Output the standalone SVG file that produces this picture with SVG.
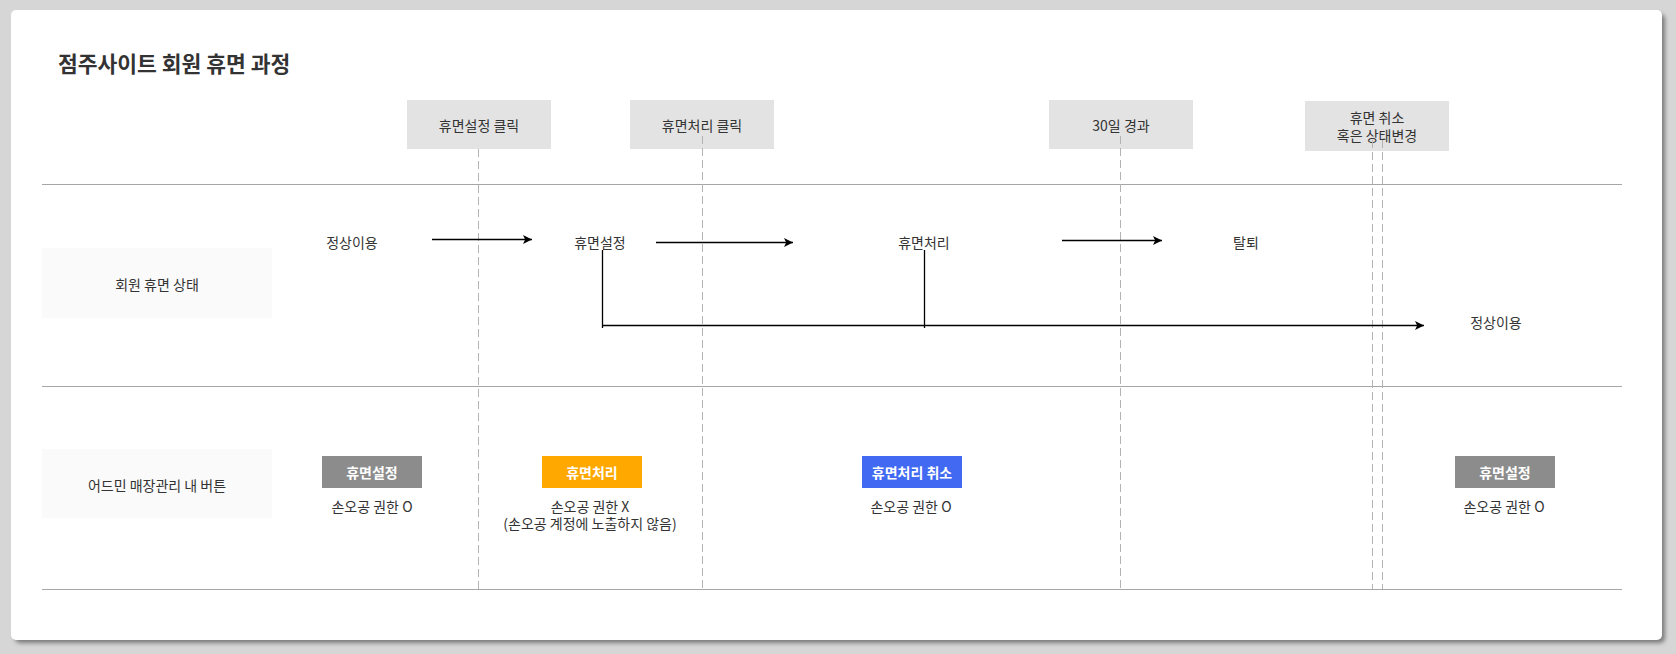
<svg xmlns="http://www.w3.org/2000/svg" width="1676" height="654" viewBox="0 0 1676 654">
  <style>
    text { font-family: "Noto Sans CJK KR", "Noto Sans", sans-serif; fill: #333333; }
    .t13 { font-size: 14px; }
    .t12 { font-size: 14px; }
    .btn { font-size: 14px; font-weight: bold; fill: #ffffff; }
    .hdr { fill: #e3e3e3; }
    .lbl { fill: #fafafa; }
    .hline { stroke: #a6a6a6; stroke-width: 1; fill: none; }
    .dash { stroke: #b3b3b3; stroke-width: 1; stroke-dasharray: 8 4; fill: none; }
    .arr { stroke: #000000; stroke-width: 1.3; fill: none; }
  </style>
  <defs>
    <marker id="ah" markerUnits="userSpaceOnUse" markerWidth="12" markerHeight="12" refX="9" refY="5" orient="auto">
      <path d="M0,0.5 L9,5 L0,9.5 L2.2,5 Z" fill="#000000"/>
    </marker>
    <filter id="sh" x="-5%" y="-5%" width="110%" height="110%">
      <feGaussianBlur stdDeviation="2"/>
    </filter>
  </defs>

  <rect x="0" y="0" width="1676" height="654" fill="#d6d6d6"/>
  <rect x="15" y="14" width="1650" height="629" rx="5" fill="#7a7a7a" filter="url(#sh)"/>
  <rect x="11" y="10" width="1651" height="630" rx="5" fill="#ffffff"/>

  <text x="58" y="72" style="font-size:21.5px;font-weight:bold;fill:#333333">점주사이트 회원 휴면 과정</text>

  <!-- lanes -->
  <g id="lanes">
    <line class="hline" x1="42" y1="184.5" x2="1622" y2="184.5"/>
    <line class="hline" x1="42" y1="386.5" x2="1622" y2="386.5"/>
    <line class="hline" x1="42" y1="589.5" x2="1622" y2="589.5"/>
  </g>

  <!-- header nodes -->
  <g id="h1">
    <rect class="hdr" x="407" y="100" width="144" height="49"/>
    <text class="t13" x="479" y="125" text-anchor="middle" dominant-baseline="central">휴면설정 클릭</text>
  </g>
  <g id="h2">
    <rect class="hdr" x="630" y="100" width="144" height="49"/>
    <text class="t13" x="702" y="125" text-anchor="middle" dominant-baseline="central">휴면처리 클릭</text>
  </g>
  <g id="h3">
    <rect class="hdr" x="1049" y="100" width="144" height="49"/>
    <text class="t13" x="1121" y="125" text-anchor="middle" dominant-baseline="central">30일 경과</text>
  </g>
  <g id="h4">
    <rect class="hdr" x="1305" y="101" width="144" height="50"/>
    <text class="t13" x="1377" y="117" text-anchor="middle" dominant-baseline="central">휴면 취소</text>
    <text class="t13" x="1377" y="135" text-anchor="middle" dominant-baseline="central">혹은 상태변경</text>
  </g>

  <!-- row labels -->
  <g id="lbl1">
    <rect class="lbl" x="42" y="248" width="230" height="70"/>
    <text class="t13" x="157" y="284" text-anchor="middle" dominant-baseline="central">회원 휴면 상태</text>
  </g>
  <g id="lbl2">
    <rect class="lbl" x="42" y="449" width="230" height="69"/>
    <text class="t13" x="157" y="485" text-anchor="middle" dominant-baseline="central">어드민 매장관리 내 버튼</text>
  </g>

  <!-- state nodes -->
  <g id="s1"><text class="t12" x="352" y="242" text-anchor="middle" dominant-baseline="central">정상이용</text></g>
  <g id="s2"><text class="t12" x="600" y="242" text-anchor="middle" dominant-baseline="central">휴면설정</text></g>
  <g id="s3"><text class="t12" x="924" y="242" text-anchor="middle" dominant-baseline="central">휴면처리</text></g>
  <g id="s4"><text class="t12" x="1246" y="242" text-anchor="middle" dominant-baseline="central">탈퇴</text></g>
  <g id="s5"><text class="t12" x="1496" y="322" text-anchor="middle" dominant-baseline="central">정상이용</text></g>

  <!-- buttons -->
  <g id="b1">
    <rect x="322" y="456" width="100" height="32" fill="#8c8c8c"/>
    <text class="btn" x="372" y="472" text-anchor="middle" dominant-baseline="central">휴면설정</text>
    <text class="t13" x="372" y="506" text-anchor="middle" dominant-baseline="central">손오공 권한 O</text>
  </g>
  <g id="b2">
    <rect x="542" y="456" width="100" height="32" fill="#ffa800"/>
    <text class="btn" x="592" y="472" text-anchor="middle" dominant-baseline="central">휴면처리</text>
    <text class="t13" x="590" y="506" text-anchor="middle" dominant-baseline="central">손오공 권한 X</text>
    <text class="t13" x="590" y="523" text-anchor="middle" dominant-baseline="central">(손오공 계정에 노출하지 않음)</text>
  </g>
  <g id="b3">
    <rect x="862" y="456" width="100" height="32" fill="#4169f2"/>
    <text class="btn" x="912" y="472" text-anchor="middle" dominant-baseline="central">휴면처리 취소</text>
    <text class="t13" x="911" y="506" text-anchor="middle" dominant-baseline="central">손오공 권한 O</text>
  </g>
  <g id="b4">
    <rect x="1455" y="456" width="100" height="32" fill="#8c8c8c"/>
    <text class="btn" x="1505" y="472" text-anchor="middle" dominant-baseline="central">휴면설정</text>
    <text class="t13" x="1504" y="506" text-anchor="middle" dominant-baseline="central">손오공 권한 O</text>
  </g>

  <!-- connectors -->
  <g id="connectors">
    <line class="dash" x1="478.5" y1="149" x2="478.5" y2="589"/>
    <line class="dash" x1="702.5" y1="136" x2="702.5" y2="589"/>
    <line class="dash" x1="1120.5" y1="136" x2="1120.5" y2="589"/>
    <line class="dash" x1="1372.5" y1="140" x2="1372.5" y2="589"/>
    <line class="dash" x1="1382.5" y1="140" x2="1382.5" y2="589"/>

    <line class="arr" x1="432" y1="239.5" x2="532" y2="239.5" marker-end="url(#ah)"/>
    <line class="arr" x1="656" y1="242.5" x2="793" y2="242.5" marker-end="url(#ah)"/>
    <line class="arr" x1="1062" y1="240.5" x2="1162" y2="240.5" marker-end="url(#ah)"/>
    <line class="arr" x1="602.5" y1="250" x2="602.5" y2="328"/>
    <line class="arr" x1="924.5" y1="250" x2="924.5" y2="328"/>
    <line class="arr" x1="602" y1="325.5" x2="1424" y2="325.5" marker-end="url(#ah)"/>
  </g>
</svg>
